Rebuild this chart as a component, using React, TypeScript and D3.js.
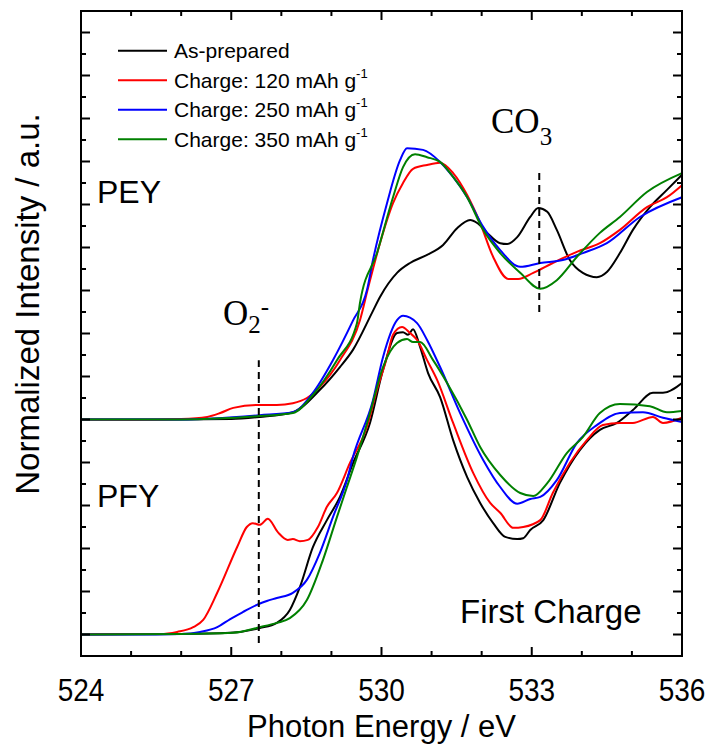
import React from 'react';
import * as d3 from 'd3';

type Pt = [number, number];

// x-axis (photon energy, eV)
const xMajorTicks = [524, 527, 530, 533, 536];
const xMinorTicks = d3.range(524, 537, 1);

// y-axis has no labels, only ticks (arbitrary units)
const yMajorTicks = d3.range(0, 15, 1);
const yMinorTicks = d3.range(-0.5, 15, 1);

// PEY (upper set, offset by +5)
const peyAsPrepared: Pt[] = [
  [524, 5.0], [525.5, 5.0], [527, 5.01], [527.57, 5.06], [528.23, 5.17], [528.77, 5.69], [529.17, 6.22],
  [529.43, 6.62], [529.81, 7.48], [529.97, 7.85], [530.31, 8.41], [530.57, 8.64], [530.91, 8.83],
  [531.23, 9.06], [531.51, 9.45], [531.77, 9.64], [531.91, 9.57], [532.11, 9.34], [532.37, 9.1],
  [532.51, 9.08], [532.71, 9.24], [532.97, 9.71], [533.13, 9.92], [533.31, 9.83], [533.5, 9.41],
  [533.76, 8.71], [534.02, 8.41], [534.3, 8.31], [534.5, 8.43], [534.76, 8.87], [535.02, 9.41],
  [535.36, 9.94], [535.7, 10.34], [536, 10.69],
];
const pey120: Pt[] = [
  [524, 5.0], [525, 4.99], [526, 5.01], [526.52, 5.06], [526.78, 5.15], [527.04, 5.27], [527.51, 5.34],
  [527.91, 5.34], [528.23, 5.38], [528.51, 5.5], [528.77, 5.76], [529.17, 6.38], [529.57, 7.31],
  [529.73, 8.05], [529.97, 9.1], [530.23, 10.03], [530.43, 10.5], [530.63, 10.83], [530.91, 10.92],
  [531.17, 10.97], [531.43, 10.73], [531.71, 10.22], [531.97, 9.57], [532.23, 8.78], [532.53, 8.27],
  [532.73, 8.27], [533.03, 8.41], [533.42, 8.64], [533.9, 8.9], [534.36, 9.1], [534.76, 9.41],
  [535.3, 9.94], [535.7, 10.17], [536, 10.45],
];
const pey250: Pt[] = [
  [524, 5.0], [526, 5.0], [527.57, 5.1], [528.23, 5.17], [528.63, 5.62], [529.03, 6.38], [529.43, 7.3],
  [529.71, 8.01], [529.83, 8.71], [530.11, 10.03], [530.37, 11.03], [530.51, 11.31], [530.83, 11.27],
  [531.17, 10.99], [531.43, 10.64], [531.71, 10.17], [532.03, 9.48], [532.37, 8.94], [532.77, 8.55],
  [533.17, 8.64], [533.62, 8.71], [534.02, 8.87], [534.5, 9.1], [535.16, 9.71], [536, 10.17],
];
const pey350: Pt[] = [
  [524, 5.0], [526, 5.0], [527.57, 5.08], [528.23, 5.15], [528.63, 5.57], [529.11, 6.38], [529.51, 7.24],
  [529.57, 7.71], [529.91, 8.87], [530.23, 10.17], [530.43, 10.87], [530.67, 11.17], [530.91, 11.1],
  [531.17, 10.99], [531.43, 10.64], [531.71, 10.17], [532.03, 9.41], [532.37, 8.87], [532.77, 8.41],
  [533.17, 8.04], [533.5, 8.24], [533.9, 8.78], [534.36, 9.34], [534.76, 9.71], [535.3, 10.29],
  [536, 10.73],
];

// PFY (lower set)
const pfyAsPrepared: Pt[] = [
  [524, 0], [526, 0.01], [526.98, 0.04], [527.57, 0.15], [527.91, 0.27], [528.17, 0.57], [528.37, 1.1],
  [528.63, 2.03], [528.91, 2.66], [529.17, 3.2], [529.43, 3.98], [529.77, 4.92], [530.03, 6.15],
  [530.31, 7.01], [530.43, 7.03], [530.53, 6.97], [530.63, 7.1], [530.77, 6.69], [530.93, 6.08],
  [531.17, 5.52], [531.43, 4.52], [531.71, 3.66], [531.97, 3.06], [532.23, 2.59], [532.47, 2.27],
  [532.71, 2.22], [532.83, 2.24], [532.97, 2.43], [533.23, 2.66], [533.56, 3.52], [533.96, 4.29],
  [534.36, 4.76], [534.7, 4.92], [535.02, 5.22], [535.42, 5.62], [535.62, 5.62], [536, 5.85],
];
const pfy120: Pt[] = [
  [524, 0], [525, 0.01], [525.58, 0.01], [525.92, 0.06], [526.24, 0.17], [526.44, 0.34], [526.72, 0.97],
  [527.12, 2.04], [527.31, 2.5], [527.43, 2.59], [527.57, 2.55], [527.73, 2.69], [527.93, 2.38],
  [528.13, 2.2], [528.23, 2.22], [528.37, 2.17], [528.53, 2.2], [528.73, 2.5], [528.91, 2.97],
  [529.11, 3.29], [529.37, 3.99], [529.71, 4.83], [529.91, 5.69], [530.11, 6.45], [530.23, 6.97],
  [530.41, 7.15], [530.57, 7.01], [530.71, 6.85], [530.91, 6.38], [531.11, 5.92], [531.43, 4.92],
  [531.83, 3.76], [532.17, 3.06], [532.37, 2.83], [532.63, 2.48], [532.83, 2.5], [533.17, 2.66],
  [533.42, 3.29], [533.76, 3.99], [534.1, 4.52], [534.42, 4.87], [534.76, 4.92], [535.02, 4.92],
  [535.42, 5.06], [535.62, 4.92], [536, 5.04],
];
const pfy250: Pt[] = [
  [524, 0], [525.5, 0], [526, 0.01], [526.38, 0.06], [526.72, 0.17], [526.98, 0.36], [527.23, 0.52],
  [527.55, 0.71], [527.71, 0.78], [527.91, 0.85], [528.23, 0.97], [528.51, 1.27], [528.77, 1.9],
  [529.03, 2.73], [529.31, 3.59], [529.43, 4.13], [529.83, 5.45], [530.03, 6.45], [530.31, 7.31],
  [530.43, 7.41], [530.71, 7.24], [530.91, 6.85], [531.17, 6.22], [531.57, 5.15], [532.03, 4.06],
  [532.37, 3.43], [532.71, 3.04], [532.97, 3.15], [533.17, 3.2], [533.5, 3.59], [533.9, 4.45],
  [534.3, 4.87], [534.76, 5.15], [535.22, 5.17], [535.62, 5.04], [536, 4.94],
];
const pfy350: Pt[] = [
  [524, 0], [526, 0.01], [527.04, 0.04], [527.57, 0.17], [527.91, 0.27], [528.17, 0.38], [528.51, 0.8],
  [528.83, 1.73], [529.11, 2.73], [529.31, 3.43], [529.51, 4.13], [529.77, 5.15], [530.03, 6.22],
  [530.31, 6.78], [530.51, 6.87], [530.63, 6.8], [530.77, 6.8], [531.03, 6.38], [531.31, 5.85],
  [531.71, 4.99], [531.97, 4.36], [532.37, 3.71], [532.77, 3.29], [533.03, 3.22], [533.31, 3.52],
  [533.7, 4.22], [534.02, 4.59], [534.36, 5.15], [534.76, 5.36], [535.36, 5.31], [535.7, 5.17],
  [536, 5.2],
];

const seriesLabels = ['As-prepared', 'Charge: 120 mAh g', 'Charge: 250 mAh g', 'Charge: 350 mAh g'];
const seriesColors = ['#000000', '#ff0000', '#0000ff', '#008000'];
const peySeries = [peyAsPrepared, pey120, pey250, pey350];
const pfySeries = [pfyAsPrepared, pfy120, pfy250, pfy350];

// dashed marker lines: [energy, yStart, yEnd]
const co3Marker = [533.15, 7.5, 10.83];
const o2Marker = [527.55, -0.2, 6.38];

const W = 710;
const H = 744;
const margin = { left: 81, right: 28, top: 11, bottom: 88 };
const SANS = '"Liberation Sans", Arial, sans-serif';
const SERIF = '"Liberation Serif", "Times New Roman", serif';

export default function App() {
  const x = d3.scaleLinear().domain([524, 536]).range([margin.left, W - margin.right]);
  const y = d3.scaleLinear().domain([-0.5, 14.5]).range([H - margin.bottom, margin.top]);
  const line = d3
    .line<Pt>()
    .x((d) => x(d[0]))
    .y((d) => y(d[1]))
    .curve(d3.curveMonotoneX);

  const [x0, x1] = x.range();
  const [y0, y1] = y.range(); // y0 bottom, y1 top

  return (
    <svg width={W} height={H} style={{ position: 'absolute', left: 0, top: 0 }}>
      <rect width={W} height={H} fill="#fff" />

      {/* curves */}
      {peySeries.map((s, i) => (
        <path key={'pey' + i} d={line(s) || ''} fill="none" stroke={seriesColors[i]} strokeWidth={2} strokeLinejoin="round" />
      ))}
      {pfySeries.map((s, i) => (
        <path key={'pfy' + i} d={line(s) || ''} fill="none" stroke={seriesColors[i]} strokeWidth={2} strokeLinejoin="round" />
      ))}

      {/* dashed markers */}
      {[co3Marker, o2Marker].map((m, i) => (
        <line key={'m' + i} x1={x(m[0])} x2={x(m[0])} y1={y(m[1])} y2={y(m[2])} stroke="#000" strokeWidth={2} strokeDasharray="7,5" />
      ))}

      {/* frame */}
      <rect x={x0} y={y1} width={x1 - x0} height={y0 - y1} fill="none" stroke="#000" strokeWidth={2} />

      {/* x ticks, bottom and top, pointing inwards */}
      {xMinorTicks.map((t) => {
        const len = xMajorTicks.includes(t) ? 9 : 5;
        return (
          <g key={'xt' + t}>
            <line x1={x(t)} x2={x(t)} y1={y0} y2={y0 - len} stroke="#000" strokeWidth={2} />
            <line x1={x(t)} x2={x(t)} y1={y1} y2={y1 + len} stroke="#000" strokeWidth={2} />
          </g>
        );
      })}
      {xMajorTicks.map((t) => (
        <text
          key={'xl' + t}
          transform={`translate(${x(t)},701) scale(1,1.1)`}
          textAnchor="middle"
          fontFamily={SANS}
          fontSize={28}
        >
          {t}
        </text>
      ))}

      {/* y ticks, left and right */}
      {yMajorTicks.map((t) => (
        <g key={'yt' + t}>
          <line x1={x0} x2={x0 + 9} y1={y(t)} y2={y(t)} stroke="#000" strokeWidth={2} />
          <line x1={x1} x2={x1 - 9} y1={y(t)} y2={y(t)} stroke="#000" strokeWidth={2} />
        </g>
      ))}
      {yMinorTicks.map((t) => (
        <g key={'ym' + t}>
          <line x1={x0} x2={x0 + 5} y1={y(t)} y2={y(t)} stroke="#000" strokeWidth={2} />
          <line x1={x1} x2={x1 - 5} y1={y(t)} y2={y(t)} stroke="#000" strokeWidth={2} />
        </g>
      ))}

      {/* axis titles */}
      <text x={(x0 + x1) / 2} y={737} textAnchor="middle" fontFamily={SANS} fontSize={31}>
        Photon Energy / eV
      </text>
      <text transform="translate(39,304) rotate(-90)" textAnchor="middle" fontFamily={SANS} fontSize={33}>
        Normalized Intensity / a.u.
      </text>

      {/* legend */}
      {seriesLabels.map((lab, i) => {
        const ly = 50.7 + i * 29.5;
        return (
          <g key={'lg' + i}>
            <line x1={118} x2={167} y1={ly} y2={ly} stroke={seriesColors[i]} strokeWidth={2} />
            <text x={174} y={ly + 7.5} fontFamily={SANS} fontSize={21}>
              {lab}
              {i > 0 && (
                <tspan dy={-10} fontSize={13}>
                  -1
                </tspan>
              )}
            </text>
          </g>
        );
      })}

      {/* annotations */}
      <text x={97} y={203} fontFamily={SANS} fontSize={32}>PEY</text>
      <text x={97} y={507} fontFamily={SANS} fontSize={32}>PFY</text>
      <text x={460} y={623} fontFamily={SANS} fontSize={33}>First Charge</text>

      <text x={491} y={133} fontFamily={SERIF} fontSize={35}>
        CO<tspan dy={12} fontSize={25}>3</tspan>
      </text>
      <text x={223} y={325} fontFamily={SERIF} fontSize={35}>
        O<tspan dy={8} fontSize={25}>2</tspan>
        <tspan dx={0} dy={-18} fontSize={25}>-</tspan>
      </text>
    </svg>
  );
}
